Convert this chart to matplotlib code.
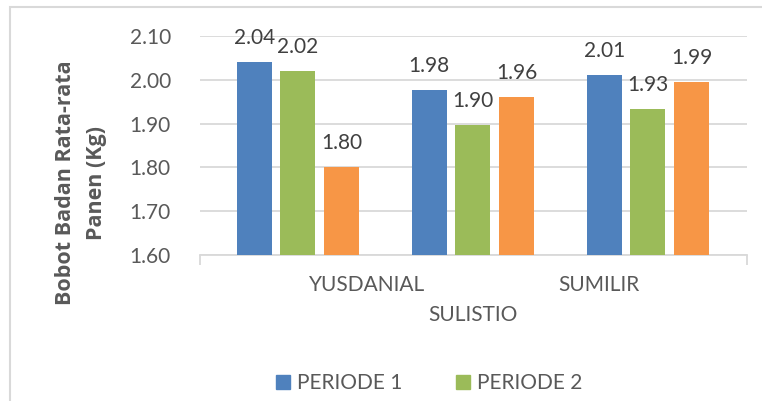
import matplotlib.pyplot as plt
from matplotlib.patches import Rectangle, Patch
from matplotlib.transforms import blended_transform_factory

# data
categories = ["YUSDANIAL", "SULISTIO", "SUMILIR"]
periode_1 = [2.041, 1.976, 2.011]
periode_2 = [2.020, 1.896, 1.934]
periode_3 = [1.800, 1.961, 1.994]
series_names = ["PERIODE 1", "PERIODE 2", "PERIODE 3"]
y_ticks = [1.60, 1.70, 1.80, 1.90, 2.00, 2.10]

colors = ["#4F81BD", "#9BBB59", "#F79646"]
# label shifts (pixels) as Excel staggered them
label_shift = [(69, -30), (0, -60), (-49, -30)]

plt.rcParams["font.family"] = ["Lato", "DejaVu Sans"]

fig = plt.figure(figsize=(7.62, 4.01), dpi=100)
ax = fig.add_axes([200 / 762, 1 - 255 / 401, 547 / 762, 219 / 401])

# chart frame (cut off at right/bottom like the screenshot)
fig.patches.append(Rectangle((10 / 762, -0.1), 1.2, 1 - 7 / 401 + 0.1,
                             transform=fig.transFigure, fill=False,
                             edgecolor="#d9d9d9", lw=1.5))

width = 0.2
step = 0.25
for k, vals in enumerate([periode_1, periode_2, periode_3]):
    xs = [i + (k - 1) * step for i in range(len(categories))]
    ax.bar(xs, [v - 1.6 for v in vals], bottom=1.6, width=width,
           color=colors[k], zorder=3)
    for x, v in zip(xs, vals):
        ax.annotate(f"{v:.2f}", (x, v), xytext=(0, 24),
                    textcoords="offset pixels", ha="center", va="center",
                    fontsize=15, color="#404040")

ax.set_xlim(-0.56, 2.566)
ax.set_ylim(1.6, 2.1)
ax.set_yticks(y_ticks)
ax.set_yticklabels([f"{t:.2f}" for t in y_ticks], fontsize=15, color="#595959")
ax.tick_params(axis="y", length=0, pad=21)
ax.grid(axis="y", color="#d9d9d9", lw=1.3, zorder=0)

# only end ticks on the category axis
ax.set_xticks([])
ax.set_xticks([-0.56, 2.566], minor=True)
ax.tick_params(axis="x", which="minor", length=7, color="#d9d9d9", width=1.3)
for s in ["left", "right", "top"]:
    ax.spines[s].set_visible(False)
ax.spines["bottom"].set_color("#d9d9d9")
ax.spines["bottom"].set_linewidth(1.3)

trans = blended_transform_factory(ax.transData, ax.transAxes)
for i, name in enumerate(categories):
    ax.annotate(name, (i, 0), xycoords=trans, xytext=label_shift[i],
                textcoords="offset pixels", ha="center", va="center",
                fontsize=15, color="#595959", annotation_clip=False)

fig.text(81 / 762, 1 - 183 / 401, "Bobot Badan Rata-rata\nPanen (Kg)",
         rotation=90, ha="center", va="center", fontsize=15.5,
         family=["Open Sans", "DejaVu Sans"], fontweight="bold",
         color="#595959", linespacing=1.6, multialignment="center")

handles = [Patch(color=colors[0]), Patch(color=colors[1])]
fig.legend(handles, series_names[:2], loc="center left",
           bbox_to_anchor=(276 / 762, 1 - 383 / 401), ncol=2, frameon=False,
           fontsize=15, labelcolor="#595959", handlelength=0.65,
           handleheight=0.65, handletextpad=0.35, columnspacing=2.6,
           borderpad=0, borderaxespad=0)

fig.savefig("out.png", dpi=100)
